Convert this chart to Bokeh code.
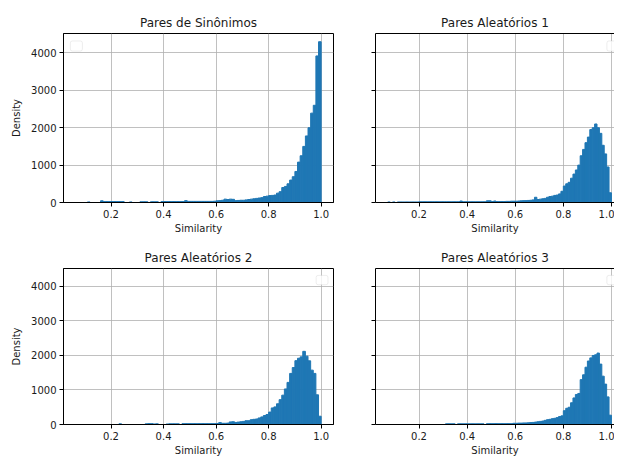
import numpy as np
from bokeh.plotting import figure
from bokeh.layouts import gridplot
from bokeh.models import (Range1d, FixedTicker, PrintfTickFormatter, BoxAnnotation,
                          LinearAxis, ColumnDataSource, CustomLabelingPolicy)
from bokeh.embed import file_html
from bokeh.resources import INLINE

# ---------------- data ----------------
BIN_START = 0.07
BIN_WIDTH = 0.01

titles = ["Pares de Sinônimos", "Pares Aleatórios 1", "Pares Aleatórios 2", "Pares Aleatórios 3"]
x_label = "Similarity"
y_label = "Density"
x_ticks = [0.2, 0.4, 0.6, 0.8, 1.0]
y_ticks = [0, 1000, 2000, 3000, 4000]

# bin counts, bins of width 0.01 starting at 0.07 (0.07, 0.08, 0.09, then 0.10 ... 0.99)
sinonimos = [
    0, 0, 0,
    0, 15, 0, 0, 0, 0, 45, 25, 25, 25,
    25, 25, 25, 25, 25, 0, 0, 15, 0, 0,
    0, 20, 20, 20, 0, 20, 20, 20, 0, 25,
    25, 25, 25, 25, 25, 25, 25, 25, 50, 30,
    30, 30, 30, 30, 30, 30, 30, 30, 30, 35,
    45, 50, 60, 90, 80, 90, 85, 50, 55, 60,
    60, 70, 80, 90, 100, 110, 120, 130, 160, 170,
    185, 190, 200, 250, 290, 400, 430, 500, 600, 690,
    830, 1080, 1250, 1500, 1780, 2000, 2390, 2600, 3920, 4300,
]
aleatorios1 = [
    15, 0, 15,
    0, 15, 15, 15, 15, 15, 15, 15, 15, 15,
    20, 20, 20, 20, 20, 20, 20, 20, 20, 20,
    20, 20, 20, 20, 20, 20, 20, 40, 20, 20,
    20, 20, 20, 20, 20, 20, 20, 20, 45, 45,
    25, 40, 25, 25, 25, 25, 30, 30, 35, 35,
    35, 40, 45, 50, 50, 55, 60, 70, 140, 80,
    90, 100, 110, 140, 160, 170, 190, 200, 230, 300,
    440, 500, 540, 650, 760, 870, 1000, 1250, 1420, 1600,
    1750, 1950, 2000, 2100, 2000, 1850, 1530, 1300, 950, 260,
]
aleatorios2 = [
    0, 0, 0,
    0, 0, 0, 0, 0, 0, 0, 0, 0, 0,
    0, 0, 0, 20, 0, 0, 0, 0, 0, 0,
    0, 0, 0, 20, 25, 25, 15, 20, 0, 0,
    0, 15, 20, 20, 20, 20, 0, 25, 25, 25,
    25, 25, 25, 25, 25, 25, 25, 25, 25, 25,
    30, 55, 35, 35, 40, 75, 80, 60, 70, 80,
    90, 110, 110, 140, 150, 160, 190, 220, 260, 290,
    360, 480, 510, 600, 720, 850, 1030, 1220, 1480, 1650,
    1850, 1920, 1960, 2120, 1980, 1845, 1575, 1480, 860, 240,
]
aleatorios3 = [
    0, 0, 0,
    0, 0, 0, 0, 0, 0, 0, 0, 0, 0,
    0, 0, 0, 0, 0, 0, 0, 0, 0, 0,
    0, 20, 20, 20, 20, 0, 20, 20, 20, 20,
    20, 20, 20, 20, 20, 20, 20, 0, 25, 25,
    25, 25, 25, 25, 25, 25, 25, 25, 25, 35,
    35, 40, 40, 45, 45, 50, 55, 60, 70, 80,
    90, 100, 120, 140, 150, 170, 180, 200, 230, 250,
    400, 470, 500, 630, 770, 870, 900, 1300, 1440, 1660,
    1840, 1930, 2000, 2020, 2070, 1750, 1400, 1170, 800, 270,
]
series = [sinonimos, aleatorios1, aleatorios2, aleatorios3]

BAR_COLOR = "#1f77b4"
FONT = "DejaVu Sans"
TEXT = "#1a1a1a"

HIDE_LABELS = CustomLabelingPolicy(code="""
for (const i of [...indices]) { indices.unset(i) }
""")


def style_axis(ax, show_labels=True):
    ax.axis_line_color = "black"
    ax.axis_line_width = 1
    ax.major_tick_line_color = "black"
    ax.major_tick_out = 4
    ax.major_tick_in = 0
    ax.minor_tick_line_color = None
    ax.major_label_text_font = FONT
    ax.major_label_text_color = TEXT
    ax.major_label_text_font_size = "10px"
    ax.axis_label_text_font = FONT
    ax.axis_label_text_font_size = "10px"
    ax.axis_label_text_font_style = "normal"
    ax.axis_label_text_color = TEXT
    if show_labels:
        ax.major_label_standoff = 3
    else:
        ax.major_label_policy = HIDE_LABELS
        ax.major_label_standoff = 0


def make(idx):
    row, col = divmod(idx, 2)
    left_col = col == 0
    counts = np.array(series[idx], dtype=float)
    lefts = BIN_START + BIN_WIDTH * np.arange(len(counts))
    src = ColumnDataSource(dict(left=lefts, right=lefts + BIN_WIDTH, top=counts))

    p = figure(
        width=343 if left_col else 271,
        height=236 if row == 0 else 222,
        output_backend="svg",
        toolbar_location=None,
        x_range=Range1d(0.019, 1.047 if left_col else 1.0127),
        y_range=Range1d(0, 4520),
        min_border_left=63 if left_col else 10,
        min_border_right=10 if left_col else 0,
        min_border_top=33 if row == 0 else 32,
        min_border_bottom=33,
        title=titles[idx],
    )
    p.title.align = "center"
    p.title.text_font = FONT
    p.title.text_font_size = "12px"
    p.title.text_font_style = "normal"
    p.title.text_color = TEXT
    p.title.standoff = 8

    p.quad(left="left", right="right", top="top", bottom=0, source=src,
           fill_color=BAR_COLOR, line_color=BAR_COLOR, line_width=1)

    p.xaxis.ticker = FixedTicker(ticks=x_ticks)
    p.yaxis.ticker = FixedTicker(ticks=y_ticks)
    p.xaxis.formatter = PrintfTickFormatter(format="%.1f")
    p.yaxis.formatter = PrintfTickFormatter(format="%d")
    p.xaxis.axis_label = x_label
    p.xaxis.axis_label_standoff = 2
    style_axis(p.xaxis[0], True)
    style_axis(p.yaxis[0], left_col)
    if left_col:
        p.yaxis.axis_label = y_label
        p.yaxis.axis_label_standoff = 6
        p.outline_line_color = "black"
        p.outline_line_width = 1
    else:
        p.outline_line_color = None
        top_axis = LinearAxis(ticker=FixedTicker(ticks=[]))
        top_axis.axis_line_color = "black"
        top_axis.major_tick_line_color = None
        top_axis.minor_tick_line_color = None
        top_axis.major_label_standoff = 0
        top_axis.major_label_policy = HIDE_LABELS
        p.add_layout(top_axis, "above")

    for g in (p.xgrid, p.ygrid):
        g.grid_line_color = "#b0b0b0"
        g.grid_line_width = 0.8

    # empty legend frame (as in the original matplotlib figure)
    if idx == 0:
        lx0, lx1 = 0.045, 0.091
    else:
        lx0, lx1 = 0.981, 1.026
    p.add_layout(BoxAnnotation(left=lx0, right=lx1, bottom=4050, top=4320,
                               fill_color="white", fill_alpha=0.8,
                               line_color="#c8c8c8", line_width=1,
                               border_radius=2, level="annotation"))
    return p


plots = [make(i) for i in range(4)]
grid = gridplot([[plots[0], plots[1]], [plots[2], plots[3]]], toolbar_location=None)

with open("out.html", "w") as f:
    f.write(file_html(grid, INLINE))
